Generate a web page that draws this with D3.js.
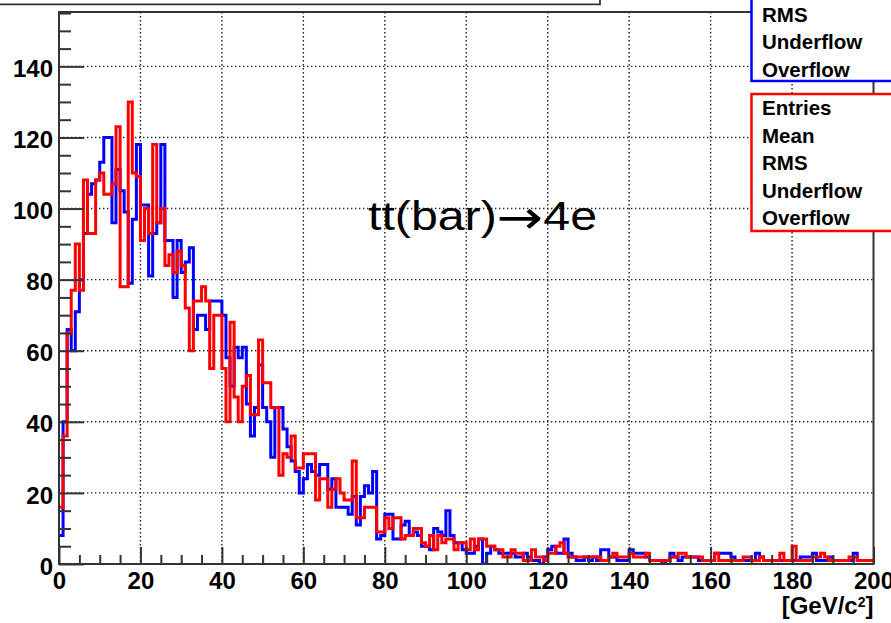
<!DOCTYPE html>
<html><head><meta charset="utf-8">
<script src="https://cdn.jsdelivr.net/npm/d3@7"></script>
<style>html,body{margin:0;padding:0;background:#fff;} svg{display:block;}</style>
</head><body>
<svg id="chart" width="891" height="623"></svg>
<script>
// 1 GeV bins, 0..200 GeV
const blueCounts = [
 8,40,66,60,71,80,93,104,107,108,
 113,120,120,96,111,105,99,79,97,118,
 101,101,81,93,96,118,91,91,75,91,
 82,85,89,66,70,70,66,74,74,74,
 70,58,50,61,58,61,45,36,44,56,
 44,40,30,44,44,38,33,29,26,20,
 24,28,26,25,28,28,21,24,16,16,
 16,14,19,11,19,22,20,26,7,8,
 14,14,7,7,11,12,8,9,8,5,
 5,4,10,9,8,15,8,6,6,4,
 3,3,5,7,0,3,5,4,3,3,
 3,3,2,2,3,2,1,1,0,2,
 4,5,3,3,7,3,2,1,1,2,
 1,2,1,4,4,2,2,1,1,1,
 4,3,3,3,2,1,1,1,0,1,
 3,2,1,2,2,2,2,1,1,1,
 1,3,3,3,3,2,1,1,1,1,
 1,3,2,1,1,1,1,1,1,1,
 1,1,2,2,2,3,1,1,1,2,
 1,1,1,1,1,3,1,1,1,1
];
const redCounts = [
 16,36,65,77,90,77,108,93,93,108,
 110,104,104,107,123,78,78,130,110,109,
 91,100,93,118,96,100,84,87,82,88,
 84,72,60,74,74,78,74,55,70,70,
 55,40,68,47,40,50,53,42,42,63,
 51,51,44,44,25,31,30,36,27,27,
 31,31,31,18,24,24,16,21,24,20,
 18,18,29,13,13,16,16,16,9,9,
 13,10,13,13,7,8,8,10,10,6,
 5,8,4,8,6,7,7,4,6,6,
 4,7,4,7,7,5,5,4,4,2,
 2,4,3,3,1,1,4,2,2,1,
 3,3,5,6,3,2,2,2,2,2,
 2,2,2,1,1,2,3,2,2,2,
 3,2,2,2,3,1,1,1,1,1,
 2,2,3,3,2,2,2,2,1,1,
 1,3,1,1,1,1,1,1,2,2,
 1,1,2,1,1,1,1,3,1,1,
 5,1,1,1,1,2,2,3,2,1,
 1,1,1,1,2,2,1,1,1,1
];
const xTickValues = [0,20,40,60,80,100,120,140,160,180,200];
const yTickValues = [0,20,40,60,80,100,120,140];
const statLabels = ["Entries","Mean","RMS","Underflow","Overflow"];
const processParts = ["tt(bar)", "\u2192", "4e"];
const xTitleMain = "[GeV/c";
const xTitleSup = "2";
const xTitleEnd = "]";

const svg = d3.select("#chart");
const FONT = "'Liberation Sans', Arial, Helvetica, sans-serif";
const L = 59, R = 873.5, T = 12, B = 564;
const x = d3.scaleLinear().domain([0, 200]).range([L, R]);
const y = d3.scaleLinear().domain([0, 155.3]).range([B, T]);

// title box remnant at top-left
svg.append("path").attr("d", "M0,4.3H600V0").attr("fill", "none")
  .attr("stroke", "#333").attr("stroke-width", 1.8);

// grid
const grid = svg.append("g").attr("stroke", "#222").attr("stroke-width", 1.4)
  .attr("stroke-dasharray", "1.4,2.6");
grid.selectAll(".gx").data(xTickValues.filter(v => v > 0 && v < 200)).join("line")
  .attr("x1", d => x(d)).attr("x2", d => x(d)).attr("y1", T).attr("y2", B);
grid.selectAll(".gy").data(yTickValues.filter(v => v > 0)).join("line")
  .attr("y1", d => y(d)).attr("y2", d => y(d)).attr("x1", L).attr("x2", R);

// histograms
svg.append("clipPath").attr("id", "clip").append("rect")
  .attr("x", L).attr("y", T).attr("width", R - L).attr("height", B - T);
const line = d3.line().x(d => x(d[0])).y(d => y(d[1]));
function steps(counts) {
  const pts = [];
  counts.forEach((v, i) => { pts.push([i, v]); pts.push([i + 1, v]); });
  return pts;
}
const hg = svg.append("g").attr("clip-path", "url(#clip)");
hg.append("path").attr("d", line(steps(blueCounts))).attr("fill", "none")
  .attr("stroke", "#0000ff").attr("stroke-width", 3).attr("stroke-linejoin", "miter");
hg.append("path").attr("d", line(steps(redCounts))).attr("fill", "none")
  .attr("stroke", "#ff0000").attr("stroke-width", 3).attr("stroke-linejoin", "miter");

// frame
svg.append("rect").attr("x", L).attr("y", T).attr("width", R - L).attr("height", B - T)
  .attr("fill", "none").attr("stroke", "#333").attr("stroke-width", 2);

// axes
const yMinor = d3.range(0, 156, 5).filter(v => v % 20 !== 0);
const xMinor = d3.range(0, 201, 5).filter(v => v % 20 !== 0);
function styleAxis(g) {
  g.select(".domain").remove();
  g.selectAll("line").attr("stroke", "#333").attr("stroke-width", 2);
  g.selectAll("text").attr("font-family", FONT).attr("font-weight", "bold")
    .attr("font-size", 24).attr("fill", "#000");
}
svg.append("g").attr("transform", `translate(${L},0)`)
  .call(d3.axisLeft(y).tickValues(yMinor).tickSizeInner(-12).tickSizeOuter(0).tickFormat(""))
  .call(styleAxis);
svg.append("g").attr("transform", `translate(${L},0)`)
  .call(d3.axisLeft(y).tickValues(yTickValues).tickSizeInner(-25).tickSizeOuter(0).tickPadding(6).tickFormat(d3.format("d")))
  .call(styleAxis)
  .selectAll("text").attr("dy", "0.42em");
svg.append("g").attr("transform", `translate(0,${B})`)
  .call(d3.axisBottom(x).tickValues(xMinor).tickSizeInner(-9).tickSizeOuter(0).tickFormat(""))
  .call(styleAxis);
svg.append("g").attr("transform", `translate(0,${B})`)
  .call(d3.axisBottom(x).tickValues(xTickValues).tickSizeInner(-17).tickSizeOuter(0).tickPadding(8).tickFormat(d3.format("d")))
  .call(styleAxis);

// x axis title
const xt = svg.append("text").attr("x", R).attr("y", 614).attr("text-anchor", "end")
  .attr("font-family", FONT).attr("font-weight", "bold").attr("font-size", 24);
xt.append("tspan").text(xTitleMain);
xt.append("tspan").attr("font-size", 14).attr("dy", -7).text(xTitleSup);
xt.append("tspan").attr("dy", 7).text(xTitleEnd);

// process label
const pl = svg.append("text").attr("x", 368).attr("y", 229.5)
  .attr("font-family", FONT).attr("font-size", 40)
  .attr("textLength", 229).attr("lengthAdjust", "spacingAndGlyphs");
pl.append("tspan").text(processParts[0]);
pl.append("tspan").attr("font-family", "'DejaVu Sans', sans-serif").attr("font-size", 46)
  .attr("dy", 3).text(processParts[1]);
pl.append("tspan").attr("dy", -3).text(processParts[2]);

// stat boxes
function statBox(color, top, bottom, firstBaseline, step) {
  svg.append("rect").attr("x", 751.5).attr("y", top).attr("width", 200).attr("height", bottom - top)
    .attr("fill", "#fff").attr("stroke", color).attr("stroke-width", 2.5);
  const rows = statLabels.map((d, i) => ({ label: d, yb: firstBaseline + i * step }))
    .filter(r => r.yb > 15);
  svg.append("g").selectAll("text").data(rows).join("text")
    .attr("x", 762).attr("y", r => r.yb)
    .attr("font-family", FONT).attr("font-weight", "bold").attr("font-size", 20.5)
    .attr("fill", "#000").text(r => r.label);
}
statBox("#0000ff", -100, 81, 77 - 4 * 27.7, 27.7);
statBox("#ff0000", 94, 231, 115, 27.6);
</script>
</body></html>
